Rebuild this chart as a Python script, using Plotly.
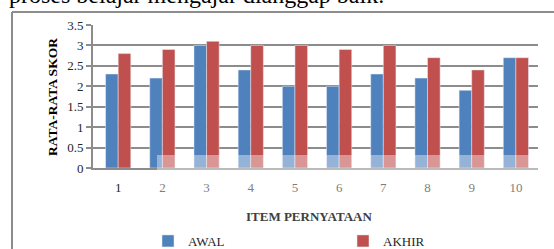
import plotly.graph_objects as go

categories = ["1", "2", "3", "4", "5", "6", "7", "8", "9", "10"]
awal = [2.3, 2.2, 3.0, 2.4, 2.0, 2.0, 2.3, 2.2, 1.9, 2.7]
akhir = [2.8, 2.9, 3.1, 3.0, 3.0, 2.9, 3.0, 2.7, 2.4, 2.7]
y_ticks = [0, 0.5, 1, 1.5, 2, 2.5, 3, 3.5]
y_tick_text = ["0", "0.5", "1", "1.5", "2", "2.5", "3", "3.5"]

W, H = 554, 249
L, R, T, B = 93, 16, 25, 81
PW, PH = W - L - R, H - T - B

def px(x):
    return (x - L) / PW

def py(y):
    return (H - B - y) / PH

FONT = "Liberation Serif"

fig = go.Figure()
fig.add_trace(go.Bar(x=categories, y=awal, name="AWAL", marker_color="#4F81BD"))
fig.add_trace(go.Bar(x=categories, y=akhir, name="AKHIR", marker_color="#C0504D"))

fig.update_layout(
    width=W, height=H,
    margin=dict(l=L, r=R, t=T, b=B, autoexpand=False),
    paper_bgcolor="white", plot_bgcolor="white",
    barmode="group", bargap=0.43, bargroupgap=0,
    font=dict(family=FONT, size=13, color="#262626"),
    showlegend=True,
    legend=dict(orientation="h", x=px(148), y=py(241), xanchor="left", yanchor="middle",
                entrywidth=150, entrywidthmode="pixels",
                font=dict(family=FONT, size=13, color="#262626"),
                bgcolor="rgba(0,0,0,0)", borderwidth=0),
    xaxis=dict(range=[-0.57, 9.5], showgrid=False, showline=True, linecolor="#8C8C8C", linewidth=2,
               ticks="", ticklabelstandoff=6,
               tickfont=dict(family=FONT, size=13, color="#262626"), fixedrange=True),
    yaxis=dict(range=[0, 3.5], tickvals=y_ticks, ticktext=y_tick_text,
               showgrid=True, gridcolor="#8C8C8C", gridwidth=2,
               showline=True, linecolor="#8C8C8C", linewidth=2,
               ticks="outside", ticklen=5, tickcolor="#8C8C8C", tickwidth=2,
               tickfont=dict(family=FONT, size=13, color="#262626"), zeroline=False,
               fixedrange=True),
)

fig.add_annotation(text="<b>RATA-RATA SKOR</b>", xref="paper", yref="paper",
                   x=px(52), y=py(97), xanchor="center", yanchor="middle",
                   textangle=-90, showarrow=False,
                   font=dict(size=13.5, color="#000000", family=FONT))
fig.add_annotation(text="<b>ITEM PERNYATAAN</b>", xref="paper", yref="paper",
                   x=px(309), y=py(216), xanchor="center", yanchor="middle", showarrow=False,
                   font=dict(size=13, color="#404040", family=FONT))
fig.add_annotation(text="proses belajar mengajar dianggap baik.", xref="paper", yref="paper",
                   x=px(7), y=py(10), xanchor="left", yanchor="bottom", showarrow=False,
                   font=dict(size=24, color="#000000", family=FONT))

# chart frame
fig.add_shape(type="line", xref="paper", yref="paper", x0=px(12), x1=px(554), y0=py(12), y1=py(12),
              line=dict(color="#8C8C8C", width=2))
fig.add_shape(type="line", xref="paper", yref="paper", x0=px(12), x1=px(12), y0=py(12), y1=py(249),
              line=dict(color="#8C8C8C", width=2))
# faint overlay
fig.add_shape(type="rect", xref="paper", yref="paper", x0=px(157), x1=px(554), y0=py(155), y1=py(249),
              fillcolor="rgba(255,255,255,0.4)", line=dict(width=0), layer="above")

fig.write_html("out.html", config={"displayModeBar": False},
               post_script="document.body.style.margin='0';")
